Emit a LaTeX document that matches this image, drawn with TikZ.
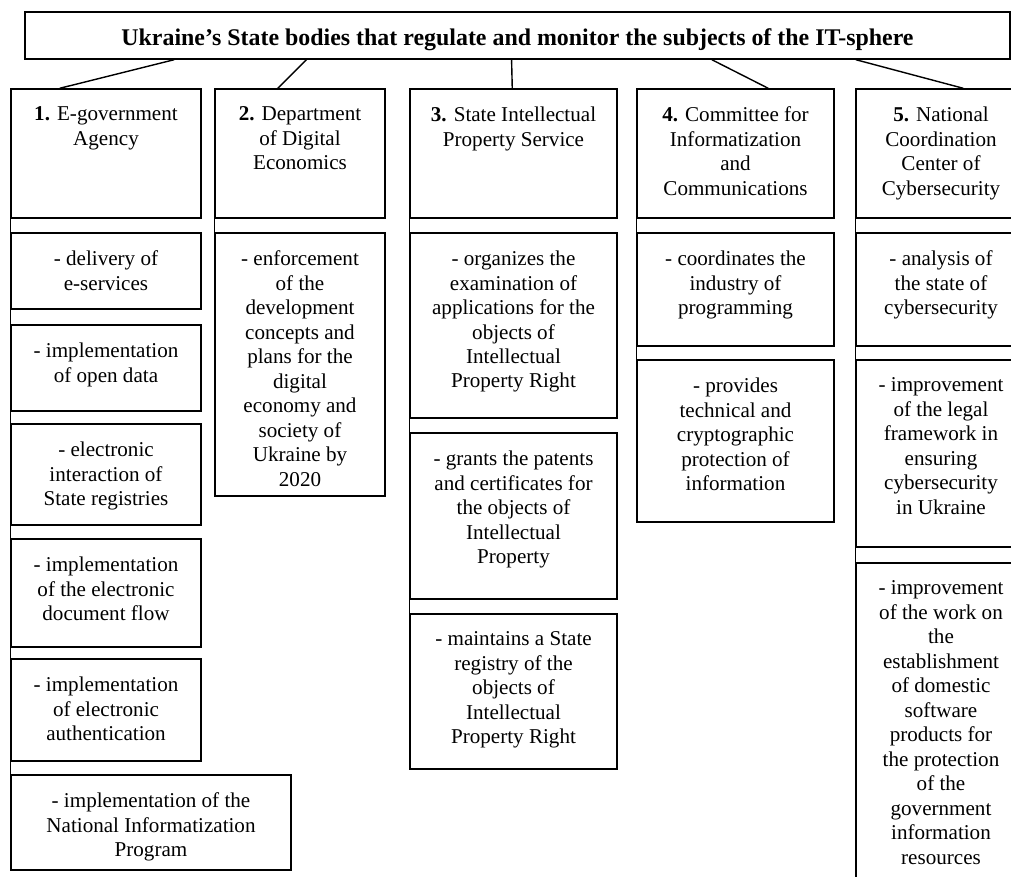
\documentclass[tikz,border=0pt]{standalone}
\usepackage{fontspec}
\setmainfont{Liberation Serif}
\usetikzlibrary{fit, calc}

\begin{document}
\begin{tikzpicture}[
  x=0.025cm, y=-0.025cm,
  line width=1pt,
  box/.style={draw, inner sep=0pt},
  txt/.style={anchor=north, align=center, inner sep=0pt, yshift=-0.45cm,
    font=\fontsize{15}{17.4}\selectfont},
  titletxt/.style={inner sep=0pt, yshift=-0.1cm, font=\fontsize{17}{20}\selectfont\bfseries}
]
\useasboundingbox (0,0) rectangle (1011,876);
\clip (0,0) rectangle (1011,876);

\node[box, fit={(25,12) (1010,59)}] (title) {};
\node[titletxt] at (title.center)
  {Ukraine's State bodies that regulate and monitor the subjects of the IT-sphere};

% the five bodies
\node[box, fit={(11,89) (201,218)}] (h1) {};
\node[txt] at (h1.north) {\textbf{1.} E-government\\Agency};
\node[box, fit={(215,89) (385,218)}] (h2) {};
\node[txt] at (h2.north) {\textbf{2.} Department\\of Digital\\Economics};
\node[box, fit={(410,89) (617,218)}] (h3) {};
\node[txt] at (h3.north) {\textbf{3.} State Intellectual\\Property Service};
\node[box, fit={(637,89) (834,218)}] (h4) {};
\node[txt] at (h4.north) {\textbf{4.} Committee for\\Informatization\\and\\Communications};
\node[box, fit={(856,89) (1026,218)}] (h5) {};
\node[txt] at (h5.north) {\textbf{5.} National\\Coordination\\Center of\\Cybersecurity};

% column 1
\node[box, fit={(11,233) (201,309)}] (a1) {};
\node[txt] at (a1.north) {- delivery of\\e-services};
\node[box, fit={(11,325) (201,411)}] (a2) {};
\node[txt] at (a2.north) {- implementation\\of open data};
\node[box, fit={(11,424) (201,525)}] (a3) {};
\node[txt] at (a3.north) {- electronic\\interaction of\\State registries};
\node[box, fit={(11,539) (201,647)}] (a4) {};
\node[txt] at (a4.north) {- implementation\\of the electronic\\document flow};
\node[box, fit={(11,659) (201,761)}] (a5) {};
\node[txt] at (a5.north) {- implementation\\of electronic\\authentication};
\node[box, fit={(11,775) (291,870)}] (a6) {};
\node[txt] at (a6.north) {- implementation of the\\National Informatization\\Program};

% column 2
\node[box, fit={(215,233) (385,496)}] (b1) {};
\node[txt] at (b1.north) {- enforcement\\of the\\development\\concepts and\\plans for the\\digital\\economy and\\society of\\Ukraine by\\2020};

% column 3
\node[box, fit={(410,233) (617,418)}] (c1) {};
\node[txt] at (c1.north) {- organizes the\\examination of\\applications for the\\objects of\\Intellectual\\Property Right};
\node[box, fit={(410,433) (617,599)}] (c2) {};
\node[txt] at (c2.north) {- grants the patents\\and certificates for\\the objects of\\Intellectual\\Property};
\node[box, fit={(410,614) (617,769)}] (c3) {};
\node[txt] at (c3.north) {- maintains a State\\registry of the\\objects of\\Intellectual\\Property Right};

% column 4
\node[box, fit={(637,233) (834,346)}] (d1) {};
\node[txt] at (d1.north) {- coordinates the\\industry of\\programming};
\node[box, fit={(637,360) (834,522)}] (d2) {};
\node[txt] at (d2.north) {- provides\\technical and\\cryptographic\\protection of\\information};

% column 5
\node[box, fit={(856,233) (1026,346)}] (e1) {};
\node[txt] at (e1.north) {- analysis of\\the state of\\cybersecurity};
\node[box, fit={(856,360) (1026,547)}] (e2) {};
\node[txt] at (e2.north) {- improvement\\of the legal\\framework in\\ensuring\\cybersecurity\\in Ukraine};
\node[box, fit={(856,563) (1026,910)}] (e3) {};
\node[txt] at (e3.north) {- improvement\\of the work on\\the\\establishment\\of domestic\\software\\products for\\the protection\\of the\\government\\information\\resources};

% title to bodies
\draw ($(title.south west)!0.152!(title.south east)$) -- ($(h1.north west)!0.258!(h1.north east)$);
\draw ($(title.south west)!0.286!(title.south east)$) -- ($(h2.north west)!0.37!(h2.north east)$);
\draw ($(title.south west)!0.494!(title.south east)$) -- ($(h3.north west)!0.494!(h3.north east)$);
\draw ($(title.south west)!0.697!(title.south east)$) -- ($(h4.north west)!0.665!(h4.north east)$);
\draw ($(title.south west)!0.843!(title.south east)$) -- ($(h5.north west)!0.63!(h5.north east)$);

% bodies to tasks
\draw (h1.south west) -- (a6.north west);
\draw (h2.south west) -- (b1.north west);
\draw (h3.south west) -- (c3.north west);
\draw (h4.south west) -- (d2.north west);
\draw (h5.south west) -- (e3.north west);

\end{tikzpicture}
\end{document}
